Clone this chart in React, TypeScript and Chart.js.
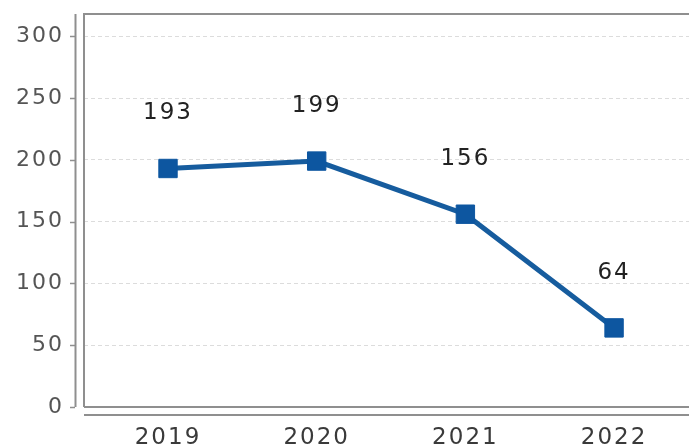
import React, { useEffect, useRef } from "react";
import { Chart, registerables } from "chart.js";

Chart.register(...registerables);

const categories = ["2019", "2020", "2021", "2022"];
const values = [193, 199, 156, 64];
const yTicks = [0, 50, 100, 150, 200, 250, 300];

const FRAME = "#8f8f8f";

const framePlugin = {
  id: "frame",
  beforeInit(chart: any) {
    (chart.ctx as any).letterSpacing = "2px";
  },
  beforeDraw(chart: any) {
    (chart.ctx as any).letterSpacing = "2px";
  },
  afterDatasetsDraw(chart: any) {
    const ctx = chart.ctx;
    const { left, top, right, bottom } = chart.chartArea;
    const y = chart.scales.y;
    ctx.save();
    ctx.strokeStyle = FRAME;
    ctx.lineWidth = 2;
    ctx.setLineDash([]);
    ctx.beginPath();
    ctx.moveTo(left, bottom);
    ctx.lineTo(left, top);
    ctx.lineTo(right + 2, top);
    ctx.moveTo(left, bottom);
    ctx.lineTo(right + 2, bottom);
    // separate y axis line
    ctx.moveTo(left - 8.5, top);
    ctx.lineTo(left - 8.5, bottom);
    // separate x axis line
    ctx.moveTo(left, bottom + 8);
    ctx.lineTo(right + 2, bottom + 8);
    ctx.stroke();
    ctx.lineWidth = 1.5;
    ctx.beginPath();
    yTicks.forEach((v) => {
      const py = Math.round(y.getPixelForValue(v)) + 0.5;
      ctx.moveTo(left - 14, py);
      ctx.lineTo(left - 9, py);
    });
    ctx.stroke();
    ctx.restore();

    // data labels
    const meta = chart.getDatasetMeta(0);
    ctx.save();
    (ctx as any).letterSpacing = "2px";
    ctx.fillStyle = "#222222";
    ctx.font = "23px 'DejaVu Sans'";
    ctx.textAlign = "center";
    ctx.textBaseline = "middle";
    meta.data.forEach((pt: any, i: number) => {
      ctx.fillText(String(values[i]), pt.x, pt.y - 55);
    });
    ctx.restore();
  },
};

export default function App() {
  const ref = useRef<HTMLCanvasElement>(null);
  useEffect(() => {
    if (!ref.current) return;
    const chart = new Chart(ref.current, {
      type: "line",
      data: {
        datasets: [
          {
            data: values.map((v, i) => ({ x: i, y: v })),
            borderColor: "#165c9e",
            backgroundColor: "#0d56a0",
            borderWidth: 5,
            pointStyle: "rect",
            pointRadius: 13,
            pointBorderWidth: 1,
            pointBorderColor: "#0d56a0",
            pointBackgroundColor: "#0d56a0",
            tension: 0,
          },
        ],
      },
      plugins: [framePlugin],
      options: {
        animation: false,
        responsive: false,
        maintainAspectRatio: false,
        layout: { autoPadding: false, padding: { top: 14, right: 0, left: 0, bottom: 0 } },
        plugins: { legend: { display: false }, tooltip: { enabled: false } },
        scales: {
          x: {
            type: "linear",
            min: -0.565,
            max: 3.504,
            afterBuildTicks: (s: any) => {
              s.ticks = categories.map((_, i) => ({ value: i }));
            },
            afterFit: (s: any) => {
              s.height = 40;
              s.paddingLeft = 0;
              s.paddingRight = 0;
            },
            grid: { display: false, drawTicks: false },
            border: { display: false },
            ticks: {
              padding: 17,
              maxRotation: 0,
              autoSkip: false,
              color: "#3a3a3a",
              font: { family: "'DejaVu Sans'", size: 23 },
              callback: (v: any) => categories[v as number] ?? "",
            },
          },
          y: {
            min: 0,
            max: 318,
            afterBuildTicks: (s: any) => {
              s.ticks = yTicks.map((v) => ({ value: v }));
            },
            afterFit: (s: any) => {
              s.width = 84;
              s.paddingTop = 0;
              s.paddingBottom = 0;
            },
            grid: {
              color: "#dcdcdc",
              lineWidth: 1,
              drawTicks: false,
            },
            border: { display: false, dash: [4, 3] },
            ticks: {
              padding: 20,
              color: "#555555",
              font: { family: "'DejaVu Sans'", size: 22 },
            },
          },
        },
      },
    });
    return () => chart.destroy();
  }, []);
  return (
    <div style={{ position: "fixed", left: 0, top: 0, width: 689, height: 447, background: "#fff" }}>
      <canvas ref={ref} width={689} height={447} style={{ display: "block", width: 689, height: 447 }} />
    </div>
  );
}
